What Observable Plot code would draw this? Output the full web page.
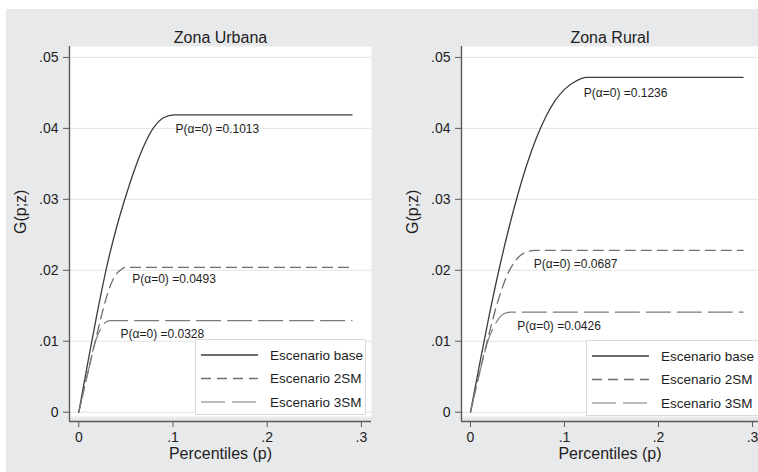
<!DOCTYPE html>
<html>
<head>
<meta charset="utf-8">
<script src="https://cdn.jsdelivr.net/npm/d3@7"></script>
<script src="https://cdn.jsdelivr.net/npm/@observablehq/plot@0.6"></script>
<style>
  body { margin: 0; background: #fff; font-family: "Liberation Sans", Arial, sans-serif; }
  #graph { position: absolute; left: 6px; top: 9px; width: 752px; height: 463px; background: #e8e9eb; overflow: hidden; }
  .panel { position: absolute; top: 0; }
  .legend { position: absolute; background: #fff; border: 1px solid #dadada; box-sizing: border-box; }
</style>
</head>
<body>
<div id="graph"></div>
<script>
// Axis ticks
const yTicks = [0, 0.01, 0.02, 0.03, 0.04, 0.05];
const xTicks = [0, 0.1, 0.2, 0.3];
const seriesNames = ["Escenario base", "Escenario 2SM", "Escenario 3SM"];

// Zona Urbana: curvas TIP G(p;z) por escenario
const urbanBaseP = [0, 0.01, 0.02, 0.03, 0.04, 0.05, 0.06, 0.07, 0.08, 0.09, 0.1013, 0.29];
const urbanBaseG = [0, 0.0073, 0.0143, 0.0207, 0.0260, 0.0305, 0.0345, 0.0378, 0.0402, 0.0415, 0.0419, 0.0419];
const urban2SMP = [0, 0.01, 0.02, 0.027, 0.034, 0.04, 0.045, 0.0493, 0.29];
const urban2SMG = [0, 0.0058, 0.0114, 0.0151, 0.0180, 0.0195, 0.0201, 0.0204, 0.0204];
const urban3SMP = [0, 0.01, 0.0177, 0.023, 0.027, 0.0328, 0.29];
const urban3SMG = [0, 0.0058, 0.0100, 0.0117, 0.0125, 0.0129, 0.0129];

// Zona Rural
const ruralBaseP = [0, 0.01, 0.02, 0.03, 0.04, 0.05, 0.06, 0.07, 0.08, 0.09, 0.10, 0.11, 0.1236, 0.29];
const ruralBaseG = [0, 0.0070, 0.0137, 0.0199, 0.0255, 0.0305, 0.0349, 0.0386, 0.0416, 0.0439, 0.0455, 0.0465, 0.0472, 0.0472];
const rural2SMP = [0, 0.01, 0.02, 0.03, 0.04, 0.05, 0.058, 0.0687, 0.29];
const rural2SMG = [0, 0.0058, 0.0112, 0.0160, 0.0196, 0.0217, 0.0225, 0.0228, 0.0228];
const rural3SMP = [0, 0.01, 0.02, 0.025, 0.03, 0.036, 0.0426, 0.29];
const rural3SMG = [0, 0.0057, 0.0106, 0.0121, 0.0132, 0.0139, 0.0141, 0.0141];

// Incidencia de la pobreza P(α=0) por escenario, y punto (p, G) donde se anota
const urbanHeadcount = [0.1013, 0.0493, 0.0328];
const urbanLabelP = [0.1027, 0.0567, 0.0443];
const urbanLabelG = [0.0399, 0.0188, 0.0110];
const ruralHeadcount = [0.1236, 0.0687, 0.0426];
const ruralLabelP = [0.1205, 0.0674, 0.0497];
const ruralLabelG = [0.0450, 0.0208, 0.0121];

const lineStyles = [
  {stroke: "#3c3c3c", width: 1.3, dash: null},
  {stroke: "#6e6e6e", width: 1.3, dash: "10,6"},
  {stroke: "#7a7a7a", width: 1.1, dash: "24,7"}
];

const zip = (P, G) => P.map((p, i) => ({p, g: G[i]}));
const tickFmt = d => d === 0 ? "0" : String(d).replace(/^0/, "");
const yDomain = [-0.00131, 0.05154];
const axisColor = "#5a5a5a";
const font = "'Liberation Sans', Arial, sans-serif";

function panel({title, series, headcount, labelP, labelG, xDomain, width, marginLeft, marginRight}) {
  const labels = headcount.map((h, i) => ({p: labelP[i], g: labelG[i], text: `P(α=0) =${h.toFixed(4)}`}));
  return Plot.plot({
    width, height: 463,
    marginTop: 37, marginBottom: 51, marginLeft, marginRight,
    x: {domain: xDomain},
    y: {domain: yDomain},
    style: {background: "transparent", fontFamily: font, color: "#1e1e1e", overflow: "visible"},
    marks: [
      Plot.frame({fill: "#fff", stroke: "none", insetBottom: 5}),
      Plot.gridY(yTicks, {stroke: "#e3e3e3", strokeOpacity: 1}),
      ...series.map((s, i) => Plot.line(s, {
        x: "p", y: "g", curve: "monotone-x",
        stroke: lineStyles[i].stroke, strokeWidth: lineStyles[i].width,
        strokeDasharray: lineStyles[i].dash
      })),
      Plot.text(labels, {x: "p", y: "g", text: "text", textAnchor: "start", fontSize: 12, fill: "#1e1e1e"}),
      Plot.ruleX([xDomain[0]], {stroke: axisColor, strokeWidth: 1.4}),
      Plot.ruleY([yDomain[0]], {stroke: axisColor, strokeWidth: 1.4}),
      Plot.axisY({ticks: yTicks, tickFormat: tickFmt, tickSize: 6, tickPadding: 5, fontSize: 14, label: null, stroke: axisColor, fill: "#1e1e1e"}),
      Plot.axisX({ticks: xTicks, tickFormat: tickFmt, tickSize: 6, tickPadding: 5, fontSize: 14, label: null, stroke: axisColor, fill: "#1e1e1e"}),
      Plot.text([title], {text: d => d, frameAnchor: "top", dy: -4, lineAnchor: "bottom", fontSize: 16}),
      Plot.text(["Percentiles (p)"], {text: d => d, frameAnchor: "bottom", dy: 37, lineAnchor: "bottom", fontSize: 16}),
      Plot.text(["G(p;z)"], {text: d => d, frameAnchor: "left", rotate: -90, dx: -44, lineAnchor: "bottom", fontSize: 16})
    ]
  });
}

const graph = document.getElementById("graph");

const left = panel({
  title: "Zona Urbana",
  series: [zip(urbanBaseP, urbanBaseG), zip(urban2SMP, urban2SMG), zip(urban3SMP, urban3SMG)],
  headcount: urbanHeadcount, labelP: urbanLabelP, labelG: urbanLabelG,
  xDomain: [-0.00987, 0.3107], width: 374, marginLeft: 63, marginRight: 9
});
left.classList.add("panel");
left.style.left = "0px";
graph.appendChild(left);

const right = panel({
  title: "Zona Rural",
  series: [zip(ruralBaseP, ruralBaseG), zip(rural2SMP, rural2SMG), zip(rural3SMP, rural3SMG)],
  headcount: ruralHeadcount, labelP: ruralLabelP, labelG: ruralLabelG,
  xDomain: [-0.00957, 0.3064], width: 378, marginLeft: 81, marginRight: 0
});
right.classList.add("panel");
right.style.left = "374px";
graph.appendChild(right);

// Legend boxes inside each plot region
function legend(leftPx, topPx, widthPx) {
  const div = d3.select(graph).append("div").attr("class", "legend")
    .style("left", leftPx + "px").style("top", topPx + "px")
    .style("width", widthPx + "px").style("height", "76px");
  const svg = div.append("svg").attr("width", widthPx).attr("height", 76)
    .style("position", "absolute").style("left", "-1px").style("top", "-1px");
  seriesNames.forEach((name, i) => {
    const y = 16 + i * 23.5;
    svg.append("line").attr("x1", 6).attr("x2", 63).attr("y1", y).attr("y2", y)
      .attr("stroke", lineStyles[i].stroke).attr("stroke-width", lineStyles[i].width)
      .attr("stroke-dasharray", lineStyles[i].dash);
    svg.append("text").attr("x", 75).attr("y", y).attr("dy", "0.34em")
      .attr("font-family", font).attr("font-size", 13.5).attr("fill", "#1e1e1e")
      .text(name);
  });
}
legend(189, 330, 171);
legend(580, 331, 190);
</script>
</body>
</html>
